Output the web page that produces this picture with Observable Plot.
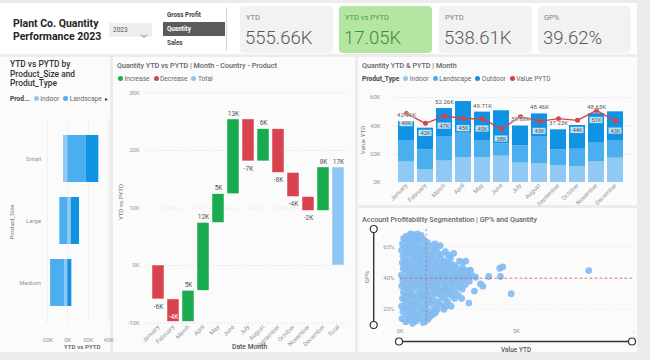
<!DOCTYPE html>
<html><head><meta charset="utf-8">
<script src="https://cdn.jsdelivr.net/npm/d3@7"></script>
<script src="https://cdn.jsdelivr.net/npm/@observablehq/plot@0.6"></script>
<style>
html,body{margin:0;padding:0;}
body{width:650px;height:360px;background:#ececec;position:relative;overflow:hidden;font-family:Roboto,"Open Sans",sans-serif;}
.panel{position:absolute;background:#fbfbfb;}
.t{position:absolute;white-space:nowrap;line-height:1;}
.plotbox{position:absolute;}
.plotbox svg{overflow:visible;display:block;}
.dot{display:inline-block;width:5px;height:5px;border-radius:50%;margin-right:1.5px;vertical-align:middle;position:relative;top:-0.5px;}
.leg{position:absolute;white-space:nowrap;font-size:6.6px;color:#666;line-height:1;}
.leg span.item{margin-right:4px;}
</style></head><body>
<script>
// ---------------- DATA ----------------
const kpiLabels = ["YTD", "YTD vs PYTD", "PYTD", "GP%"];
const kpiValues = ["555.66K", "17.05K", "538.61K", "39.62%"];
const slicerItems = ["Gross Profit", "Quantity", "Sales"];
const selectedMeasure = "Quantity";
const yearValue = "2023";

const productTypes = ["Indoor", "Landscape", "Outdoor"];
const typeColors = ["#8fc9f4", "#4aaeef", "#1193e4"];

const sizes = ["Small", "Large", "Medium"];
const sizeIndoor = [-4.1, 3.4, -3.1];
const sizeLandscape = [17.8, -7.7, -13.6];
const sizeOutdoor = [12.5, 8.1, 4.0];
const sizeTicks = [-20, 0, 20, 40];

const months = ["January","February","March","April","May","June","July","August","September","October","November","December"];
const wfChanges = [-5.9, -3.9, 5.4, 11.8, 5.0, 13.0, -7.3, 5.6, -7.6, -4.2, -2.4, 7.55];
const wfTotal = 17.05;
const wfTicks = [-10, 0, 10, 20, 30];
const wfKinds = ["Increase", "Decrease", "Total"];
const wfColors = ["#1aab50", "#d8434f", "#8ec6f3"];

const ytdIndoor    = [14.4, 9.2, 15.1, 17.4, 17.4, 18.6, 13.7, 13.4, 12.0, 11.3, 14.8, 17.2];
const ytdLandscape = [15.3, 13.9, 17.4, 17.4, 12.3, 8.7, 12.2, 18.6, 11.1, 12.2, 13.0, 12.0];
const ytdOutdoor   = [13.26, 15.3, 19.76, 22.4, 20.01, 23.4, 13.98, 16.46, 14.13, 16.8, 20.83, 20.73];
const pytdValue    = [48.7, 41.8, 46.9, 45.2, 44.9, 37.8, 46.5, 43.2, 45.1, 43.9, 50.9, 43.4];
const totalLabelMonths = ["January","March","May","July","August","September","November"];
const lineLabelMonths = ["January","February","March","April","May","June","August","October","November","December"];
const ytdTicks = [0, 20, 40, 60];

// Account points: [Value YTD (K), GP %]
const scatterPoints = [
[0.08,14],[0.12,18.5],[0.06,22],[0.1,27],[0.14,31],[0.07,35],[0.11,38.5],[0.05,42],[0.13,46],[0.09,50],[0.12,54],[0.06,58],[0.1,62],[0.15,65.5],
[0.24,12],[0.28,16],[0.22,20.5],[0.27,24],[0.23,29],[0.29,33],[0.25,37],[0.21,40],[0.3,44],[0.26,48],[0.22,52],[0.28,56],[0.24,60],[0.3,64],[0.27,67],
[0.38,13],[0.42,17],[0.37,21],[0.43,26],[0.4,30],[0.36,34],[0.44,39],[0.39,43],[0.41,47],[0.37,51],[0.43,55],[0.38,59],[0.42,63],[0.4,66],[0.45,68.5],
[0.53,11],[0.57,15],[0.52,19],[0.58,23],[0.55,28],[0.51,32],[0.59,36],[0.54,41],[0.56,45],[0.52,49],[0.58,53],[0.55,57],[0.53,61],[0.57,65],[0.6,68],
[0.68,12.5],[0.72,16],[0.69,21],[0.73,25],[0.67,29],[0.71,34],[0.74,38],[0.68,42],[0.72,46],[0.7,50],[0.66,54],[0.73,58],[0.69,62],[0.71,66],[0.75,68.5],
[0.84,14],[0.88,18],[0.82,22],[0.87,27],[0.83,31],[0.89,35],[0.85,39],[0.81,44],[0.87,48],[0.84,52],[0.88,56],[0.83,60],[0.86,64],[0.9,67.5],
[0.99,11.5],[1.03,15],[0.97,20],[1.02,24],[0.98,28],[1.04,33],[1.0,37],[0.96,41],[1.03,45],[0.99,49],[1.01,53],[0.97,57],[1.04,61],[1.0,65],
[1.14,13],[1.18,17],[1.12,22],[1.17,26],[1.13,30],[1.19,35],[1.15,39],[1.11,43],[1.18,47],[1.14,51],[1.16,55],[1.12,59],[1.17,63],
[1.3,15.5],[1.33,19],[1.27,24],[1.32,28],[1.28,32],[1.34,36],[1.29,40],[1.31,44],[1.27,48],[1.33,53],[1.3,57],[1.35,61],
[1.44,17],[1.47,22],[1.42,26],[1.48,31],[1.43,35],[1.46,39],[1.41,42],[1.49,46],[1.45,50],[1.42,55],[1.47,59],[1.5,62],
[1.6,20],[1.63,25],[1.57,30],[1.62,34],[1.58,38],[1.64,41],[1.59,45],[1.61,49],[1.56,52],[1.63,56],[1.6,60],
[1.74,23],[1.78,28],[1.73,32],[1.77,37],[1.72,40],[1.76,44],[1.79,48],[1.73,52],[1.75,55],[1.72,61],
[1.88,20],[1.92,27],[1.87,31],[1.91,35],[1.89,39],[1.93,43],[1.86,47],[1.9,51],[1.94,57],
[2.04,25],[2.08,30],[2.02,34],[2.07,38],[2.03,42],[2.06,46],[2.01,50],[2.05,55],
[2.19,22],[2.22,29],[2.17,33],[2.21,37],[2.18,41],[2.23,45],[2.2,49],[2.16,53],
[2.34,27],[2.38,32],[2.33,36],[2.37,40],[2.32,44],[2.36,48],[2.3,56],
[2.5,29],[2.53,35],[2.48,39],[2.52,43],[2.49,46],[2.55,51],
[2.64,27],[2.67,33],[2.62,38],[2.66,42],[2.63,45],[2.68,50],
[2.8,36],[2.83,40],[2.78,44],[2.82,51],
[2.95,24],[2.97,38],[2.93,42],[2.98,45],
[3.02,45],[3.1,41.7],[3.24,40.6],[3.19,31.7],[3.45,36.4],[3.55,34.9],[3.81,41.1],[4.28,46.4],[4.41,47.3],[4.31,41.1],[4.77,30],[8.11,44.9],
[0.18,26],[0.33,45],[0.47,37],[0.62,17],[0.79,40],[0.93,30],[1.08,47],[1.22,38],[0.35,61],[0.64,59],[0.92,43],[1.07,19],
[0.48,24],[0.19,57],[0.77,53],[1.24,51],[1.38,45],[1.53,36],[1.68,47],[1.83,42],[1.98,33],[2.12,47],[2.27,39],[2.42,42],
[2.58,40],[2.72,46],[2.87,41],[1.95,22],[1.52,18],[1.2,14],[0.63,47],[0.32,29],[0.16,48],[0.48,56],[0.8,65],[1.09,57]
];
const avgValueYTD = 1.12;
const avgGP = 40;
const gpTicks = [20, 40, 60];
const valueTicks = [0, 5, 10];
const valueTickLabels = ["0K", "5K", "…"];

// ---------------- HELPERS ----------------
function el(tag, cls, css, html) {
  const e = document.createElement(tag);
  if (cls) e.className = cls;
  Object.assign(e.style, css || {});
  if (html != null) e.innerHTML = html;
  document.body.appendChild(e);
  return e;
}
function text(s, x, y, size, css) {
  return el("div", "t", Object.assign({left: x + "px", top: (y - size / 2) + "px", fontSize: size + "px", color: "#666"}, css || {}), s);
}
function vtext(s, cx, cy, size, css) {
  return el("div", "t", Object.assign({left: cx + "px", top: cy + "px", fontSize: size + "px", color: "#777",
    transform: "translate(-50%,-50%) rotate(-90deg)"}, css || {}), s);
}
function legend(x, y, items, title) {
  let h = title ? `<span class="item" style="font-weight:700;color:#444">${title}</span>` : "";
  h += items.map(([lab, col]) => `<span class="item"><span class="dot" style="background:${col}"></span>${lab}</span>`).join("");
  return el("div", "leg", {left: x + "px", top: (y - 3.5) + "px"}, h);
}
function place(svg, x, y) {
  const d = el("div", "plotbox", {left: x + "px", top: y + "px"});
  d.appendChild(svg);
}
const baseStyle = {fontFamily: "Roboto, sans-serif", fontSize: "6px", color: "#949494", background: "transparent", overflow: "visible"};

// ---------------- PANELS ----------------
el("div", "panel", {left: "0px", top: "3px", width: "637px", height: "51px", background: "#ffffff"});
el("div", "panel", {left: "0px", top: "57px", width: "110px", height: "295px"});
el("div", "panel", {left: "113px", top: "57px", width: "242px", height: "295px"});
el("div", "panel", {left: "358px", top: "57px", width: "279px", height: "148px"});
el("div", "panel", {left: "358px", top: "208px", width: "279px", height: "144px"});

// ---------------- HEADER ----------------
el("div", "t", {left: "13px", top: "17px", fontSize: "10.5px", lineHeight: "13px", fontWeight: "700", color: "#252423"}, "Plant Co. Quantity<br>Performance 2023");
el("div", "t", {left: "109px", top: "23px", width: "43px", height: "14px", background: "#eeeeee"}, "");
text(yearValue, 113, 30, 6.5, {color: "#555"});
el("div", "t", {left: "140px", top: "26px"}, '<svg width="8" height="6"><polyline points="1,1.5 4,4.5 7,1.5" fill="none" stroke="#666" stroke-width="0.9"/></svg>');
slicerItems.forEach((s, i) => {
  const top = [9, 22, 37][i];
  const sel = s === selectedMeasure;
  el("div", "t", {left: "163px", top: top + "px", width: "62px", height: (sel ? 14 : 13) + "px", background: sel ? "#5b5b5b" : "transparent"}, "");
  text(s, 167, top + (sel ? 7 : 6.5), 6.3, {color: sel ? "#ffffff" : "#444", fontWeight: "700"});
});
el("div", "t", {left: "226px", top: "7px", width: "1px", height: "44px", background: "#d6d6d6"}, "");
const cardX = [240, 339, 439, 538];
kpiLabels.forEach((lab, i) => {
  const green = i === 1;
  el("div", "t", {left: cardX[i] + "px", top: "6px", width: "93px", height: "47px", borderRadius: "4px", background: green ? "#b4e5a2" : "#f2f2f2"}, "");
  text(lab, cardX[i] + 6, 18, 7.5, {color: green ? "#4d9a4d" : "#808080"});
  text(kpiValues[i], cardX[i] + 5, 38.5, 18.5, {color: green ? "#3a8f3a" : "#5a5a5a", fontWeight: "300"});
});

// ---------------- LEFT: YTD vs PYTD by size/type ----------------
el("div", "t", {left: "10px", top: "60px", fontSize: "8.4px", lineHeight: "9.6px", fontWeight: "500", color: "#333"}, "YTD vs PYTD by<br>Product_Size and<br>Produt_Type");
legend(10, 99, [["Indoor", typeColors[0]], ["Landscape", typeColors[1]]], "Prod...");
text("▸", 105, 99, 6, {color: "#333"});
const sizeRows = sizes.flatMap((s, i) => [
  {size: s, type: "Indoor", value: sizeIndoor[i]},
  {size: s, type: "Landscape", value: sizeLandscape[i]},
  {size: s, type: "Outdoor", value: sizeOutdoor[i]}
]);
place(Plot.plot({
  width: 115, height: 242, marginLeft: 42.6, marginRight: 1.6, marginTop: 9, marginBottom: 29,
  style: baseStyle,
  x: {domain: [-24, 45], ticks: sizeTicks, tickFormat: d => `${d}K`, tickSize: 0, tickPadding: 14, label: null},
  y: {domain: sizes, padding: 0.24, tickSize: 0, tickPadding: 2, label: null},
  color: {domain: productTypes, range: typeColors},
  marks: [
    Plot.ruleX(sizeTicks, {stroke: "#efefef"}),
    Plot.barX(sizeRows, {y: "size", x: "value", fill: "type"})
  ]
}), 0, 110);
vtext("Product_Size", 12, 222, 6, {color: "#777"});
text("YTD vs PYTD", 64, 347, 6.2, {color: "#555", fontWeight: "500"});

// ---------------- MIDDLE: waterfall ----------------
text("Quantity YTD vs PYTD | Month - Country - Product", 117, 65.5, 7.2, {color: "#666", fontWeight: "500"});
legend(118, 79.5, wfKinds.map((k, i) => [k, wfColors[i]]));
let run = 0;
const wf = months.map((m, i) => {
  const s = run; run += wfChanges[i];
  return {label: m, start: s, end: run, value: wfChanges[i], kind: wfChanges[i] >= 0 ? "Increase" : "Decrease"};
});
wf.push({label: "Total", start: 0, end: wfTotal, value: wfTotal, kind: "Total"});
const kfmt = v => `${Math.round(v)}K`;
const upLab = wf.filter(d => d.kind !== "Decrease");
const downLab = wf.filter(d => d.kind === "Decrease" && Math.min(d.start, d.end) > -8.5);
const inLab = wf.filter(d => d.kind === "Decrease" && Math.min(d.start, d.end) <= -8.5);
place(Plot.plot({
  width: 242, height: 267, marginLeft: 33.65, marginRight: 5.7, marginTop: 7.5, marginBottom: 29.5,
  style: baseStyle,
  x: {domain: wf.map(d => d.label), padding: 0.22, tickRotate: -45, tickSize: 0, tickPadding: 3, label: null},
  y: {domain: [-10, 30], ticks: wfTicks, tickFormat: d => `${d}K`, tickSize: 0, tickPadding: 7.5, label: null},
  color: {domain: wfKinds, range: wfColors},
  marks: [
    Plot.ruleY(wfTicks, {stroke: "#e2e2e2", strokeDasharray: "1.5,2"}),
    Plot.barY(wf, {x: "label", y1: "start", y2: "end", fill: "kind", stroke: "#ffffff", strokeWidth: 0.6, strokeOpacity: 0.8}),
    Plot.text(upLab, {x: "label", y: d => Math.max(d.start, d.end), text: d => kfmt(d.value), dy: -6, fontSize: 6.5, fill: "#555"}),
    Plot.text(downLab, {x: "label", y: d => Math.min(d.start, d.end), text: d => kfmt(d.value), dy: 7, fontSize: 6.5, fill: "#555"}),
    Plot.text(inLab, {x: "label", y: d => Math.min(d.start, d.end), text: d => kfmt(d.value), dy: -5, fontSize: 6.5, fill: "#ffffff"})
  ]
}), 113, 85);
vtext("YTD vs PYTD", 121, 202, 6.2, {color: "#777"});
text("Date Month", 232, 347, 6.8, {color: "#555", fontWeight: "500"});

// ---------------- TOP RIGHT: YTD & PYTD by month ----------------
text("Quantity YTD & PYTD | Month", 362, 66, 7.2, {color: "#666", fontWeight: "500"});
legend(362, 79.5, [...productTypes.map((t, i) => [t, typeColors[i]]), ["Value PYTD", "#d9404a"]], "Produt_Type");
const stacked = months.flatMap((m, i) => [
  {month: m, type: "Indoor", value: ytdIndoor[i]},
  {month: m, type: "Landscape", value: ytdLandscape[i]},
  {month: m, type: "Outdoor", value: ytdOutdoor[i]}
]);
const totals = months.map((m, i) => ({month: m, total: ytdIndoor[i] + ytdLandscape[i] + ytdOutdoor[i]}));
const pytd = months.map((m, i) => ({month: m, value: pytdValue[i]}));
const pytdLab = pytd.filter(d => lineLabelMonths.includes(d.month));
const totLab = totals.filter(d => totalLabelMonths.includes(d.month));
place(Plot.plot({
  width: 279, height: 120, marginLeft: 31.56, marginRight: 5.6, marginTop: 5, marginBottom: 23,
  style: baseStyle,
  x: {domain: months, padding: 0.15, tickRotate: -45, tickSize: 0, tickPadding: 2, label: null},
  y: {domain: [0, 65], ticks: ytdTicks, tickFormat: d => `${d}K`, tickSize: 0, tickPadding: 9.5, label: null},
  color: {domain: productTypes, range: typeColors},
  marks: [
    Plot.ruleY(ytdTicks.slice(1), {stroke: "#e2e2e2", strokeDasharray: "1.5,2"}),
    Plot.barY(stacked, {x: "month", y: "value", fill: "type"}),
    Plot.barY(pytdLab, {x: "month", y1: d => d.value - 9.3, y2: d => d.value - 4.9, fill: "#ffffff", fillOpacity: 0.72, insetLeft: 1.5, insetRight: 1.5}),
    Plot.text(pytdLab, {x: "month", y: d => d.value - 7.1, text: d => kfmt(d.value), fontSize: 5.8, fill: "#555"}),
    Plot.lineY(pytd, {x: "month", y: "value", stroke: "#d9404a", strokeWidth: 1.4}),
    Plot.dot(pytd, {x: "month", y: "value", r: 2.5, fill: "#d9404a"}),
    Plot.text(totLab, {x: "month", y: "total", text: d => `${d.total.toFixed(2)}K`, dy: -6.5, fontSize: 6, fill: "#555", stroke: "#ffffff", strokeWidth: 1.5, strokeOpacity: 0.5})
  ]
}), 358, 85);
vtext("Value YTD", 363, 140, 6.2, {color: "#777"});

// ---------------- BOTTOM RIGHT: scatter ----------------
text("Account Profitability Segmentation | GP% and Quantity", 362, 220, 7.2, {color: "#666", fontWeight: "500"});
const pts = scatterPoints.map(([v, g]) => ({v, g}));
place(Plot.plot({
  width: 279, height: 120, marginLeft: 41.7, marginRight: 4.7, marginTop: 4, marginBottom: 20,
  style: baseStyle,
  x: {domain: [0, 10], ticks: valueTicks, tickFormat: d => valueTickLabels[valueTicks.indexOf(d)], tickSize: 0, tickPadding: 3, label: null},
  y: {domain: [9.6, 71.3], ticks: gpTicks, tickFormat: d => `${d}%`, tickSize: 0, tickPadding: 5.7, label: null},
  marks: [
    Plot.ruleY(gpTicks, {stroke: "#ececec", strokeDasharray: "1.5,2"}),
    Plot.dot(pts, {x: "v", y: "g", r: 3.4, fill: "#82bcf0", fillOpacity: 0.92}),
    Plot.ruleY([avgGP], {stroke: "#d9545f", strokeDasharray: "2.5,2.5", strokeWidth: 1, strokeOpacity: 0.85}),
    Plot.ruleX([avgValueYTD], {stroke: "#c96a86", strokeDasharray: "2,2.5", strokeWidth: 1, strokeOpacity: 0.85})
  ]
}), 358, 225);
vtext("GP%", 367, 277, 6.2, {color: "#777"});
text("Value YTD", 501, 350.5, 6.5, {color: "#555", fontWeight: "500"});
el("div", "t", {left: "358px", top: "225px"},
  '<svg width="279" height="125" style="overflow:visible">' +
  '<line x1="15.7" y1="4" x2="15.7" y2="100" stroke="#333" stroke-width="1.4"/>' +
  '<circle cx="15.7" cy="4" r="3.5" fill="#fff" stroke="#333" stroke-width="1.2"/>' +
  '<circle cx="15.7" cy="100" r="3.5" fill="#fff" stroke="#333" stroke-width="1.2"/>' +
  '<line x1="41" y1="116.5" x2="274" y2="116.5" stroke="#333" stroke-width="1.4"/>' +
  '<circle cx="41" cy="116.5" r="3.5" fill="#fff" stroke="#333" stroke-width="1.2"/>' +
  '<circle cx="274" cy="116.5" r="3.5" fill="#fff" stroke="#333" stroke-width="1.2"/>' +
  '</svg>');
</script>
</body></html>
